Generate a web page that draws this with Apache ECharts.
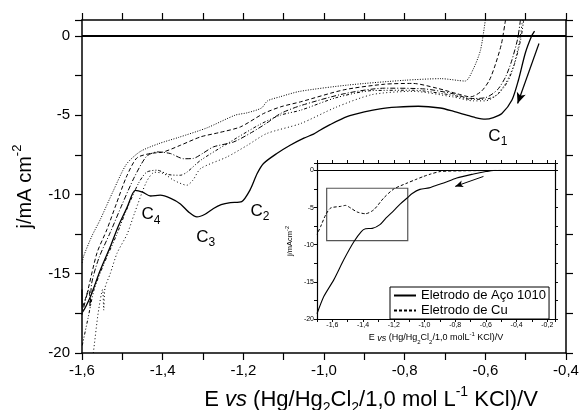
<!DOCTYPE html>
<html>
<head>
<meta charset="utf-8">
<script src="https://cdn.jsdelivr.net/npm/echarts@6/dist/echarts.min.js"></script>
<style>
  html, body { margin: 0; padding: 0; background: #fff; }
  #chart { width: 579px; height: 410px; }
</style>
</head>
<body>
<div id="chart"></div>
<script>
const FONT = 'Liberation Sans, Arial, sans-serif';

// main plot: cathodic sweeps, [E / V, j / mA cm-2]
const steelScan = [[-0.478,0.3],[-0.485,0],[-0.501,-1.1],[-0.518,-2.8],[-0.534,-4.05],[-0.559,-4.9],[-0.58,-5.15],[-0.6,-5.25],[-0.625,-5.15],[-0.646,-5.0],[-0.68,-4.75],[-0.712,-4.55],[-0.766,-4.44],[-0.82,-4.5],[-0.861,-4.6],[-0.9,-4.8],[-0.943,-5.1],[-0.985,-5.6],[-1.01,-5.95],[-1.026,-6.2],[-1.05,-6.45],[-1.084,-6.9],[-1.117,-7.42],[-1.15,-8.05],[-1.166,-8.7],[-1.183,-9.7],[-1.204,-10.45],[-1.232,-10.52],[-1.255,-10.65],[-1.274,-10.89],[-1.295,-11.25],[-1.315,-11.42],[-1.336,-11.1],[-1.356,-10.6],[-1.38,-10.25],[-1.406,-10.05],[-1.43,-10.1],[-1.45,-9.85],[-1.468,-9.74],[-1.488,-10.8],[-1.51,-12.0],[-1.53,-13.3],[-1.555,-14.8],[-1.58,-16.5],[-1.598,-17.4],[-1.6,-16.0]];
const scanA = [[-0.600,1.0],[-0.612,-0.9],[-0.630,-2.1],[-0.650,-2.85],[-0.710,-2.7],[-0.800,-2.8],[-0.940,-3.1],[-1.060,-3.5],[-1.110,-3.85],[-1.140,-4.1],[-1.155,-4.55],[-1.190,-4.85],[-1.220,-5.0],[-1.290,-5.8],[-1.360,-6.4],[-1.410,-6.8],[-1.456,-7.3],[-1.490,-8.1],[-1.522,-9.75],[-1.555,-11.6],[-1.575,-12.6],[-1.596,-13.9],[-1.600,-14.4]];
const scanB = [[-0.550,1.0],[-0.560,-0.5],[-0.575,-1.8],[-0.590,-2.8],[-0.610,-3.5],[-0.637,-3.85],[-0.670,-3.65],[-0.720,-3.3],[-0.780,-3.0],[-0.850,-3.05],[-0.950,-3.4],[-1.058,-4.16],[-1.108,-4.48],[-1.150,-4.9],[-1.207,-5.74],[-1.260,-6.1],[-1.306,-6.37],[-1.356,-6.9],[-1.398,-7.32],[-1.431,-7.42],[-1.464,-7.7],[-1.490,-8.9],[-1.515,-10.6],[-1.538,-12.2],[-1.563,-13.7],[-1.588,-16.3],[-1.600,-17.2]];
const scanC = [[-0.513,1.0],[-0.520,-0.2],[-0.535,-1.6],[-0.550,-2.6],[-0.570,-3.4],[-0.600,-3.9],[-0.637,-3.95],[-0.680,-3.65],[-0.750,-3.35],[-0.850,-3.3],[-0.950,-3.65],[-1.058,-4.4],[-1.108,-4.9],[-1.142,-5.5],[-1.180,-6.1],[-1.224,-6.69],[-1.274,-7.0],[-1.300,-7.4],[-1.324,-7.73],[-1.348,-7.75],[-1.381,-7.42],[-1.414,-7.32],[-1.440,-7.6],[-1.470,-8.9],[-1.500,-10.6],[-1.530,-12.4],[-1.558,-14.0],[-1.576,-15.6],[-1.580,-17.1],[-1.583,-16.0],[-1.600,-17.6]];
const scanD = [[-0.505,1.0],[-0.512,-0.2],[-0.528,-1.8],[-0.545,-2.9],[-0.570,-3.7],[-0.600,-4.0],[-0.637,-4.0],[-0.680,-3.75],[-0.780,-3.43],[-0.880,-3.45],[-0.970,-3.9],[-1.058,-4.69],[-1.108,-5.0],[-1.160,-5.6],[-1.240,-6.8],[-1.306,-7.85],[-1.340,-8.6],[-1.356,-8.79],[-1.385,-8.75],[-1.414,-8.47],[-1.440,-8.6],[-1.460,-9.3],[-1.490,-11.0],[-1.515,-12.6],[-1.546,-14.4],[-1.570,-16.0],[-1.585,-17.8],[-1.600,-19.6]];
const scanE = [[-0.508,1.0],[-0.515,-0.3],[-0.530,-1.9],[-0.550,-3.0],[-0.575,-3.8],[-0.600,-4.1],[-0.630,-4.1],[-0.680,-3.85],[-0.780,-3.5],[-0.880,-3.7],[-0.970,-4.5],[-1.058,-5.53],[-1.142,-6.16],[-1.190,-6.9],[-1.240,-7.63],[-1.306,-8.37],[-1.325,-9.1],[-1.340,-9.42],[-1.373,-9.1],[-1.398,-8.68],[-1.420,-8.6],[-1.440,-9.2],[-1.470,-11.2],[-1.488,-12.5],[-1.513,-13.7],[-1.530,-15.0],[-1.543,-15.9],[-1.546,-17.3],[-1.549,-16.0],[-1.560,-17.5],[-1.572,-20.0],[-1.578,-21.0]];

// inset: steel vs copper electrode
const steelInset = [[-0.55,0],[-0.60,-0.15],[-0.68,-0.48],[-0.79,-1.02],[-0.875,-1.7],[-0.93,-2.05],[-0.97,-2.35],[-1.03,-2.55],[-1.08,-3.1],[-1.113,-3.71],[-1.157,-4.5],[-1.2,-5.4],[-1.25,-6.4],[-1.29,-7.3],[-1.34,-7.8],[-1.384,-7.85],[-1.41,-8.2],[-1.46,-9.6],[-1.525,-12.0],[-1.59,-14.7],[-1.655,-16.95],[-1.70,-19.3]];
const copperInset = [[-0.50,0],[-0.62,-0.02],[-0.75,-0.05],[-0.897,-0.15],[-0.962,-0.5],[-1.005,-0.8],[-1.06,-1.25],[-1.113,-1.7],[-1.2,-2.5],[-1.265,-3.7],[-1.33,-5.29],[-1.384,-5.83],[-1.438,-5.6],[-1.481,-5.06],[-1.514,-4.71],[-1.546,-4.84],[-1.611,-5.06],[-1.643,-5.96],[-1.676,-7.54],[-1.70,-8.6]];
const legendNames = ['Eletrodo de Aço 1010', 'Eletrodo de Cu'];

// peak labels [text, subscript, E, j]
const peakLabels = [['C', '1', -0.569, -6.32], ['C', '2', -1.159, -11.05], ['C', '3', -1.293, -12.68], ['C', '4', -1.429, -11.26]];

const evenTenth = v => Math.round(v * 10) % 2 === 0 ? v.toFixed(1).replace('.', ',') : '';
const fiveStep = v => Math.round(v * 10) % 50 === 0 ? String(Math.round(v)) : '';

function xAx(grid, pos, min, max, labels, s) {
  return {
    type: 'value', gridIndex: grid, position: pos, min, max, interval: 0.1,
    axisLine: {onZero: false, lineStyle: {color: '#000', width: s.lw}},
    axisTick: {inside: false, length: s.tick, lineStyle: {color: '#000', width: s.lw * 0.8}},
    axisLabel: {show: labels, formatter: evenTenth, fontSize: s.fs, color: '#000', margin: s.xm, fontFamily: FONT},
    splitLine: {show: false}
  };
}
function yAx(grid, pos, labels, s) {
  return {
    type: 'value', gridIndex: grid, position: pos, min: -20, max: 1, interval: 2.5,
    axisLine: {onZero: false, lineStyle: {color: '#000', width: s.lw}},
    axisTick: {inside: false, length: s.tick, lineStyle: {color: '#000', width: s.lw * 0.8}},
    axisLabel: {show: labels, formatter: fiveStep, fontSize: s.fs, color: '#000', margin: s.ym, fontFamily: FONT},
    splitLine: {show: false}
  };
}
const big = {lw: 1.5, tick: 7, fs: 15, xm: 10, ym: 12};
const small = {lw: 1.2, tick: 3, fs: 7, xm: 3, ym: 3};

function curve(name, data, dash, width, xi) {
  return {
    name, type: 'line', data, xAxisIndex: xi, yAxisIndex: xi,
    showSymbol: false, symbol: 'none', smooth: 0.25, silent: true,
    itemStyle: {color: '#000'},
    lineStyle: {color: '#000', width: width, type: dash}
  };
}

const richMain = {
  t: {fontSize: 22, lineHeight: 30, fontFamily: FONT, color: '#000'},
  i: {fontSize: 22, lineHeight: 30, fontFamily: FONT, fontStyle: 'italic', color: '#000'},
  b: {fontSize: 14, lineHeight: 13, fontFamily: FONT, verticalAlign: 'bottom', color: '#000'},
  p: {fontSize: 14, lineHeight: 13, fontFamily: FONT, verticalAlign: 'top', color: '#000'}
};
const richSmall = {
  t: {fontSize: 9, lineHeight: 14, fontFamily: FONT, color: '#000'},
  i: {fontSize: 9, lineHeight: 14, fontFamily: FONT, fontStyle: 'italic', color: '#000'},
  b: {fontSize: 6, lineHeight: 6, fontFamily: FONT, verticalAlign: 'bottom', color: '#000'},
  p: {fontSize: 6, lineHeight: 6, fontFamily: FONT, verticalAlign: 'top', color: '#000'}
};

const chart = echarts.init(document.getElementById('chart'));

const steelSeries = curve('steel', steelScan, 'solid', 1.3, 0);
steelSeries.markLine = {
  silent: true, symbol: ['none', 'arrow'], symbolSize: [7, 11],
  label: {show: false}, lineStyle: {color: '#000', type: 'solid', width: 1.2},
  data: [[{coord: [-0.467, -0.48]}, {coord: [-0.52, -4.27]}]]
};
steelSeries.markPoint = {
  silent: true, symbol: 'circle', symbolSize: 0,
  data: peakLabels.map(p => ({
    coord: [p[2], p[3]],
    label: {show: true, position: 'inside', formatter: '{c|' + p[0] + '}{s|' + p[1] + '}',
      rich: {
        c: {fontSize: 17, lineHeight: 24, fontFamily: FONT, color: '#000'},
        s: {fontSize: 12, lineHeight: 12, fontFamily: FONT, verticalAlign: 'bottom', color: '#000'}
      }}
  }))
};
const zeroMain = {
  type: 'line', data: [], xAxisIndex: 0, yAxisIndex: 0, silent: true,
  markLine: {silent: true, symbol: 'none', label: {show: false},
    lineStyle: {color: '#000', type: 'solid', width: 2}, data: [{yAxis: 0}]}
};

const steelIn = curve(legendNames[0], steelInset, 'solid', 1.1, 2);
steelIn.markLine = {
  silent: true, symbol: ['none', 'arrow'], symbolSize: [5, 8],
  label: {show: false}, lineStyle: {color: '#000', type: 'solid', width: 1},
  data: [
    [{coord: [-0.616, -0.81]}, {coord: [-0.80, -2.15]}],
    [{coord: [-1.7, 0], symbol: 'none'}, {coord: [-0.15, 0], symbol: 'none'}]
  ]
};
steelIn.markArea = {
  silent: true,
  itemStyle: {color: 'rgba(0,0,0,0)', borderColor: '#555', borderWidth: 1.2},
  data: [[{coord: [-1.637, -2.4]}, {coord: [-1.109, -9.46]}]]
};
const copperIn = curve(legendNames[1], copperInset, [3, 2], 1, 2);

chart.setOption({
  animation: false,
  color: ['#000'],
  textStyle: {fontFamily: FONT},
  grid: [
    {left: 82, top: 20, right: 13, bottom: 57, outerBoundsMode: 'none', containLabel: false},
    {left: 317, top: 163, right: 24, bottom: 91, outerBoundsMode: 'none', containLabel: false,
      show: true, backgroundColor: '#fff', borderWidth: 0}
  ],
  xAxis: [
    Object.assign(xAx(0, 'bottom', -1.6, -0.4, true, big), {
      name: '{t|E }{i|vs}{t| (Hg/Hg}{b|2}{t|Cl}{b|2}{t|/1,0 mol L}{p|-1}{t| KCl)/V}',
      nameLocation: 'middle', nameGap: 32,
      nameTextStyle: {rich: richMain, padding: [0, 0, 0, 94]}
    }),
    xAx(0, 'top', -1.6, -0.4, false, big),
    Object.assign(xAx(1, 'bottom', -1.7, -0.15, true, small), {
      name: '{t|E }{i|vs}{t| (Hg/Hg}{b|2}{t|Cl}{b|2}{t|/1,0 molL}{p|-1}{t| KCl)/V}',
      nameLocation: 'middle', nameGap: 12,
      nameTextStyle: {rich: richSmall}
    }),
    xAx(1, 'top', -1.7, -0.15, false, small)
  ],
  yAxis: [
    Object.assign(yAx(0, 'left', true, big), {
      name: '{t|j/mA cm}{p|-2}', nameLocation: 'middle', nameGap: 43, nameRotate: 90,
      nameTextStyle: {rich: {t: {fontSize: 20, lineHeight: 28, fontFamily: FONT, color: '#000'},
        p: {fontSize: 13, lineHeight: 13, verticalAlign: 'top', fontFamily: FONT, color: '#000'}}}
    }),
    yAx(0, 'right', false, big),
    Object.assign(yAx(1, 'left', true, small), {
      name: '{t|j/mAcm}{p|-2}', nameLocation: 'middle', nameGap: 22, nameRotate: 90,
      nameTextStyle: {rich: {t: {fontSize: 7.5, lineHeight: 11, fontFamily: FONT, color: '#000'},
        p: {fontSize: 5.5, lineHeight: 5, verticalAlign: 'top', fontFamily: FONT, color: '#000'}}}
    }),
    yAx(1, 'right', false, small)
  ],
  legend: {
    data: legendNames, orient: 'vertical', left: 390, top: 287,
    itemWidth: 22, itemHeight: 10, itemGap: 2, padding: [2, 3, 2, 3],
    borderColor: '#000', borderWidth: 1, backgroundColor: '#fff',
    itemStyle: {opacity: 0},
    textStyle: {fontSize: 13, color: '#000', fontFamily: FONT}
  },
  series: [
    zeroMain,
    steelSeries,
    curve('a', scanA, [1, 1.5], 1, 0),
    curve('b', scanB, [4, 2.5], 1, 0),
    curve('c', scanC, [5, 2, 1, 2], 1, 0),
    curve('d', scanD, [3, 2, 1, 2, 1, 2], 1, 0),
    curve('e', scanE, [1, 2.5], 1, 0),
    steelIn,
    copperIn
  ]
});
</script>
</body>
</html>
